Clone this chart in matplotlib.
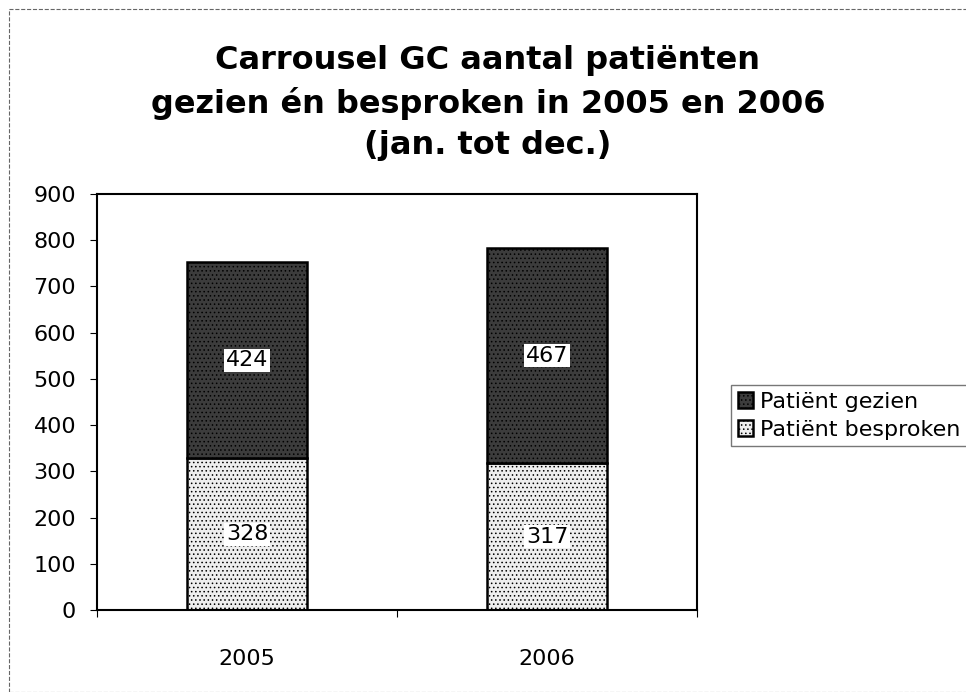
import numpy as np
import matplotlib
matplotlib.use('Agg')
import matplotlib.pyplot as plt
from matplotlib.patches import Rectangle

years = ['2005', '2006']
besproken = [328, 317]
gezien = [424, 467]
series_names = ['Patiënt gezien', 'Patiënt besproken']

plt.rcParams['font.family'] = ['DejaVu Sans']
plt.rcParams['hatch.linewidth'] = 0.6

fig = plt.figure(figsize=(9.66, 6.92), dpi=100)
ax = fig.add_axes([97 / 966, 1 - 610 / 692, 600 / 966, 416 / 692])

x = np.arange(len(years))
plt.rcParams['hatch.color'] = '#bdbdbd'
b1 = ax.bar(x, besproken, width=0.4, color='#eeeeee', edgecolor='black',
            linewidth=1.8, hatch='....', label=series_names[1])
plt.rcParams['hatch.color'] = '#6a6a6a'
b2 = ax.bar(x, gezien, width=0.4, bottom=besproken, color='#3c3c3c',
            edgecolor='black', linewidth=1.8, hatch='....', label=series_names[0])

for i in range(len(years)):
    ax.text(x[i], besproken[i] / 2, str(besproken[i]), ha='center', va='center',
            fontsize=16, bbox=dict(facecolor='white', edgecolor='none', pad=1))
    ax.text(x[i], besproken[i] + gezien[i] / 2, str(gezien[i]), ha='center', va='center',
            fontsize=16, bbox=dict(facecolor='white', edgecolor='none', pad=1))

ax.set_xlim(-0.5, 1.5)
ax.set_ylim(0, 900)
ax.set_yticks(np.arange(0, 901, 100))
ax.set_xticks([-0.5, 0.5, 1.5])
ax.set_xticklabels([])
ax.set_xticks(x, minor=True)
ax.set_xticklabels(years, minor=True, fontsize=16)
ax.tick_params(axis='x', which='minor', length=0, pad=28)
ax.tick_params(axis='x', which='major', length=5, direction='out')
ax.tick_params(axis='y', length=5, direction='out', labelsize=16, pad=10)
for s in ax.spines.values():
    s.set_linewidth(1.5)

fig.text(0.505, 1 - 103 / 692, 'Carrousel GC aantal patiënten\ngezien én besproken in 2005 en 2006\n(jan. tot dec.)',
         ha='center', va='center', fontsize=23, fontweight='bold', linespacing=1.42)

handles = [b2, b1]
leg = fig.legend(handles, series_names, loc='upper left', bbox_to_anchor=(720 / 966, 1 - 374 / 692),
                 fontsize=16, frameon=True, fancybox=False, edgecolor='#555555',
                 handlelength=0.7, handleheight=0.7, handletextpad=0.3, borderpad=0.3,
                 labelspacing=0.35)
leg.get_frame().set_linewidth(1.0)

fig.patches.append(Rectangle((9 / 966, 0.0), 1.2, 1 - 9 / 692, transform=fig.transFigure,
                             fill=False, edgecolor='#666666', linewidth=0.8, linestyle='--'))

plt.savefig('out.png', dpi=100)
plt.close()
